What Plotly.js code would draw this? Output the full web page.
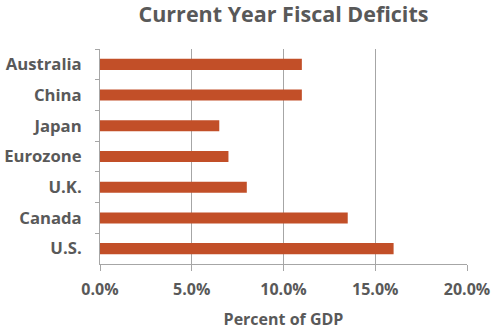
<!DOCTYPE html>
<html>
<head>
<meta charset="utf-8">
<script src="https://cdn.plot.ly/plotly-3.0.1.min.js"></script>
<style>html,body{margin:0;padding:0;background:#fff;}#chart{width:500px;height:332px;}</style>
</head>
<body>
<div id="chart"></div>
<script>
const categories = ["Australia", "China", "Japan", "Eurozone", "U.K.", "Canada", "U.S."];
const deficits = [11.0, 11.0, 6.5, 7.0, 8.0, 13.5, 16.0];
const xTickValues = [0, 5, 10, 15, 20];
const xTickLabels = ["0.0%", "5.0%", "10.0%", "15.0%", "20.0%"];

const textColor = "#595959";
const gridColor = "#A6A6A6";
const fontFamily = "'Open Sans', 'DejaVu Sans', sans-serif";

const trace = {
  type: "bar",
  orientation: "h",
  y: categories,
  x: deficits,
  marker: {color: "#C24F28"},
  hoverinfo: "x+y"
};

const layout = {
  width: 500,
  height: 332,
  margin: {l: 100, r: 32.5, t: 49.4, b: 68},
  paper_bgcolor: "#ffffff",
  plot_bgcolor: "#ffffff",
  showlegend: false,
  bargap: 0.64,
  title: {
    text: "Current Year Fiscal Deficits",
    font: {family: fontFamily, size: 21.5, color: textColor, weight: 700},
    x: 0.5, xref: "paper", xanchor: "center",
    y: 0.957, yref: "container", yanchor: "middle"
  },
  xaxis: {
    range: [0, 20],
    tickvals: xTickValues,
    ticktext: xTickLabels,
    showgrid: true,
    gridcolor: gridColor,
    gridwidth: 1,
    zeroline: false,
    showline: true,
    linecolor: gridColor,
    linewidth: 1,
    ticks: "outside",
    ticklen: 6,
    tickcolor: gridColor,
    ticklabelstandoff: 5,
    tickfont: {family: fontFamily, size: 16, color: textColor, weight: 700},
    title: {
      text: "Percent of GDP",
      font: {family: fontFamily, size: 16, color: textColor, weight: 700},
      standoff: 14
    },
    fixedrange: true
  },
  yaxis: {
    type: "category",
    autorange: "reversed",
    showgrid: false,
    zeroline: false,
    showline: true,
    linecolor: gridColor,
    linewidth: 1,
    ticks: "outside",
    tickson: "boundaries",
    ticklen: 4,
    tickcolor: gridColor,
    ticklabelstandoff: 14,
    tickfont: {family: fontFamily, size: 16.7, color: textColor, weight: 700},
    fixedrange: true
  }
};

Plotly.newPlot("chart", [trace], layout, {displayModeBar: false, staticPlot: true});
</script>
</body>
</html>
